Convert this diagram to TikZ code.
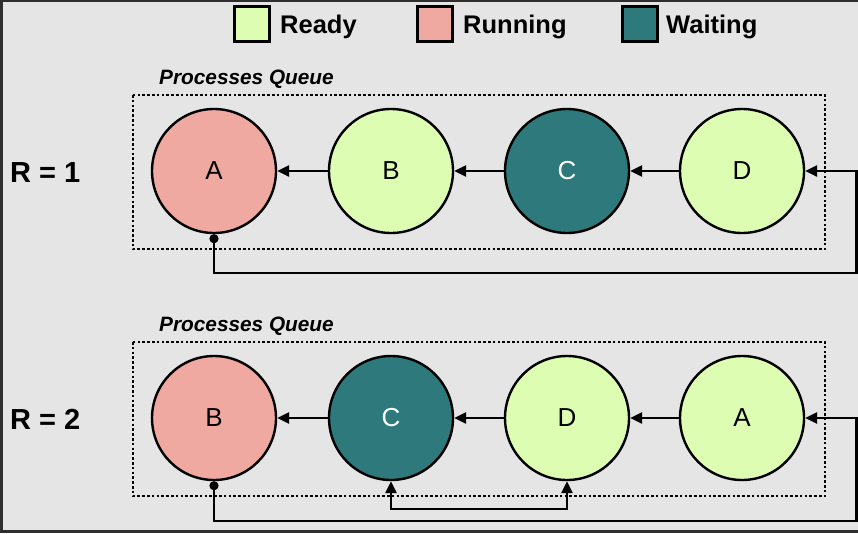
\documentclass[tikz,border=0pt]{standalone}
\usepackage{fontspec}
\setmainfont{Liberation Sans}
\usetikzlibrary{arrows.meta}
\definecolor{bg}{HTML}{E5E5E5}
\definecolor{frame}{HTML}{2E2E2E}
\definecolor{ready}{HTML}{DDFDB2}
\definecolor{running}{HTML}{F0A9A1}
\definecolor{waiting}{HTML}{2E797B}
\tikzset{
  proc/.style={circle, draw=black, line width=2.4pt, minimum size=124pt, inner sep=0pt, font=\fontsize{26pt}{26pt}\selectfont},
  legbox/.style={draw=black, line width=2.4pt, minimum width=35pt, minimum height=35pt, inner sep=0pt},
  legtext/.style={anchor=base west, inner sep=0pt, font=\fontsize{25.5pt}{26pt}\selectfont\bfseries},
  rlabel/.style={anchor=base west, inner sep=0pt, font=\fontsize{29pt}{29pt}\selectfont\bfseries},
  qlabel/.style={anchor=base west, inner sep=0pt, font=\fontsize{20.8pt}{21pt}\selectfont\bfseries\itshape},
  queuebox/.style={draw=black, line width=2.6pt, dash pattern=on 2.6pt off 2.2pt},
  link/.style={draw=black, line width=2.5pt, -{Triangle[length=12pt,width=11pt]}},
  back/.style={draw=black, line width=2.5pt, {Circle[length=9pt]}-{Triangle[length=12pt,width=11pt]}},
  both/.style={draw=black, line width=2.5pt, {Triangle[length=12pt,width=11pt]}-{Triangle[length=12pt,width=11pt]}}
}
\begin{document}
\begin{tikzpicture}[x=1pt,y=-1pt]
\useasboundingbox (0,0) rectangle (858,533);
\fill[bg] (0,0) rectangle (858,533);
\fill[frame] (0,0) rectangle (858,2);
\fill[frame] (0,0) rectangle (3,533);
\fill[frame] (0,530) rectangle (858,533);

% legend
\node[legbox, fill=ready] (lgready) at (252,24) {};
\node[legtext] (lgreadyt) at (280,33) {Ready};
\node[legbox, fill=running] (lgrun) at (435,24) {};
\node[legtext] (lgrunt) at (463,33) {Running};
\node[legbox, fill=waiting] (lgwait) at (640,24) {};
\node[legtext] (lgwaitt) at (666,33) {Waiting};

% row 1
\node[qlabel] (q1) at (159,84) {Processes Queue};
\draw[queuebox] (133,95) rectangle (825,249);
\node[rlabel] (r1) at (10,182) {R = 1};
\node[proc, fill=running] (r1a) at (214,171) {A};
\node[proc, fill=ready] (r1b) at (391,171) {B};
\node[proc, fill=waiting, text=white] (r1c) at (567,171) {C};
\node[proc, fill=ready] (r1d) at (742,171) {D};
\draw[link] (r1b) -- (r1a);
\draw[link] (r1c) -- (r1b);
\draw[link] (r1d) -- (r1c);
\coordinate (r1back) at (856.5,273);
\draw[back] (r1a.south) |- (r1back) |- (r1d.east);

% row 2
\node[qlabel] (q2) at (159,331) {Processes Queue};
\draw[queuebox] (133,342) rectangle (825,496);
\node[rlabel] (r2) at (10,429) {R = 2};
\node[proc, fill=running] (r2b) at (214,418) {B};
\node[proc, fill=waiting, text=white] (r2c) at (391,418) {C};
\node[proc, fill=ready] (r2d) at (567,418) {D};
\node[proc, fill=ready] (r2a) at (742,418) {A};
\draw[link] (r2c) -- (r2b);
\draw[link] (r2d) -- (r2c);
\draw[link] (r2a) -- (r2d);
\coordinate (r2back) at (856.5,521);
\draw[back] (r2b.south) |- (r2back) |- (r2a.east);
\coordinate (r2swap) at (478,509);
\draw[both] (r2c.south) |- (r2swap) -| (r2d.south);
\end{tikzpicture}
\end{document}
